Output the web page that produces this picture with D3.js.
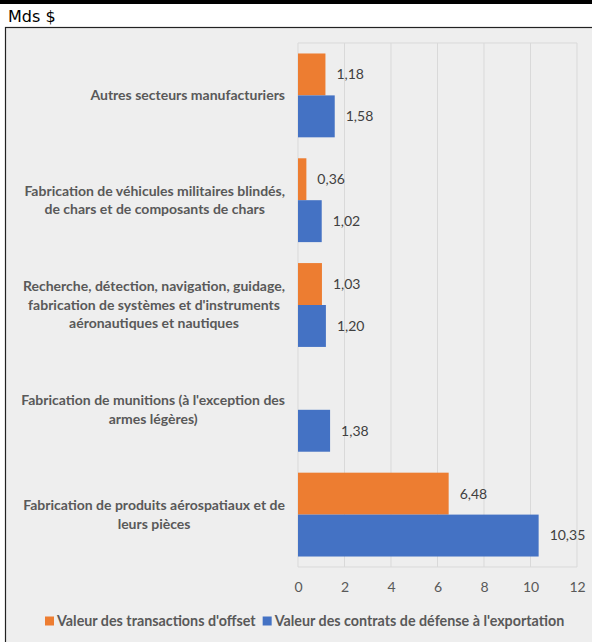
<!DOCTYPE html>
<html>
<head>
<meta charset="utf-8">
<script src="https://cdn.jsdelivr.net/npm/d3@7"></script>
<style>
  body { margin: 0; background: #fff; }
  svg { display: block; }
</style>
</head>
<body>
<div id="chart"></div>
<script>
// categories, top to bottom
const categories = [
  "Autres secteurs manufacturiers",
  "Fabrication de véhicules militaires blindés,|de chars et de composants de chars",
  "Recherche, détection, navigation, guidage,|fabrication de systèmes et d'instruments|aéronautiques et nautiques",
  "Fabrication de munitions (à l'exception des|armes légères)",
  "Fabrication de produits aérospatiaux et de|leurs pièces"
];
const seriesNames = ["Valeur des transactions d'offset", "Valeur des contrats de défense à l'exportation"];
const offsetValues = [1.18, 0.36, 1.03, null, 6.48];
const exportValues = [1.58, 1.02, 1.20, 1.38, 10.35];
const xTicks = [0, 2, 4, 6, 8, 10, 12];
const colors = ["#ED7D31", "#4472C4"];

const width = 592, height = 642;
const svg = d3.select("#chart").append("svg")
  .attr("width", width).attr("height", height);

// top black strip and frame
svg.append("rect").attr("x", 0).attr("y", 0).attr("width", width).attr("height", 4).attr("fill", "#000");
svg.append("text").attr("x", 8).attr("y", 22)
  .attr("font-family", "Verdana, 'DejaVu Sans', sans-serif").attr("font-size", 16)
  .attr("fill", "#000").text("Mds $");
svg.append("rect").attr("x", 5.5).attr("y", 27.5).attr("width", width).attr("height", height)
  .attr("fill", "#eeeeee").attr("stroke", "#222").attr("stroke-width", 1.2);

const margin = {left: 298, right: 15, top: 43, bottom: 75};
const x = d3.scaleLinear().domain([0, 12]).range([margin.left, width - margin.right]);
const y = d3.scaleBand().domain(d3.range(categories.length))
  .range([margin.top, height - margin.bottom]).paddingInner(0.2).paddingOuter(0.1);

const font = "Lato, 'Open Sans', sans-serif";
const g = svg.append("g");

// grid
g.selectAll("line.grid").data(xTicks).join("line")
  .attr("x1", d => x(d)).attr("x2", d => x(d))
  .attr("y1", margin.top).attr("y2", height - margin.bottom)
  .attr("stroke", "#d9d9d9").attr("stroke-width", 1);
g.append("line").attr("x1", x(0)).attr("x2", x(12))
  .attr("y1", margin.top).attr("y2", margin.top).attr("stroke", "#d9d9d9");
g.append("line").attr("x1", x(0)).attr("x2", x(12))
  .attr("y1", height - margin.bottom).attr("y2", height - margin.bottom).attr("stroke", "#d9d9d9");

// x axis labels
const xAxis = d3.axisBottom(x).tickValues(xTicks).tickSize(0).tickPadding(15);
const ax = svg.append("g").attr("transform", `translate(0,${height - margin.bottom})`).call(xAxis);
ax.select(".domain").remove();
ax.selectAll("text").attr("font-family", font).attr("font-size", 14).attr("fill", "#595959");

// bars
const sub = d3.scaleBand().domain([0, 1]).range([0, y.bandwidth()]);
const rows = categories.map((c, i) => ({i, vals: [offsetValues[i], exportValues[i]]}));
const fmt = v => d3.format(".2f")(v).replace(".", ",");

rows.forEach(r => {
  r.vals.forEach((v, s) => {
    if (v == null) return;
    const yy = y(r.i) + sub(s);
    g.append("rect").attr("x", x(0)).attr("y", yy)
      .attr("width", x(v) - x(0)).attr("height", sub.bandwidth())
      .attr("fill", colors[s]);
    g.append("text").attr("x", x(v) + 11).attr("y", yy + sub.bandwidth() / 2)
      .attr("dy", "0.35em").attr("font-family", font).attr("font-size", 14)
      .attr("fill", "#404040").text(fmt(v));
  });
});

// category labels: block right-aligned, lines centred in block
const labelRight = 285;
categories.forEach((c, i) => {
  const lines = c.split("|");
  const lh = 18.5;
  const cy = y(i) + y.bandwidth() / 2 - (lines.length - 1) * lh / 2;
  const spans = lines.map((l, k) => svg.append("text").attr("font-family", font).attr("font-size", 14)
    .attr("font-weight", "bold").attr("fill", "#595959").attr("text-anchor", "middle")
    .attr("y", cy + k * lh).attr("dy", "0.35em").text(l));
  const w = d3.max(spans, s => s.node().getComputedTextLength());
  spans.forEach(s => s.attr("x", labelRight - w / 2));
});

// legend
const leg = svg.append("g").attr("transform", `translate(0,${height - 21})`);
let lx = 45;
seriesNames.forEach((n, s) => {
  leg.append("rect").attr("x", lx).attr("y", -4.5).attr("width", 9).attr("height", 9).attr("fill", colors[s]);
  const t = leg.append("text").attr("x", lx + 12).attr("y", 0).attr("dy", "0.35em")
    .attr("font-family", font).attr("font-size", 14.3).attr("font-weight", "bold")
    .attr("fill", "#595959").text(n);
  lx += 12 + t.node().getComputedTextLength() + 7;
});
</script>
</body>
</html>
